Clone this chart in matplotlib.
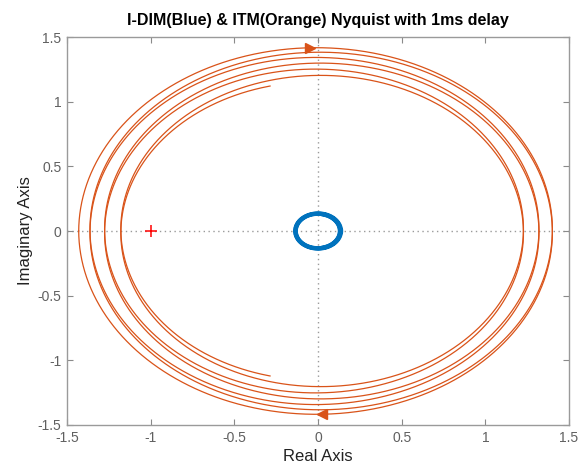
import numpy as np
import matplotlib
matplotlib.use("Agg")
import matplotlib.pyplot as plt

# ---- data ----
delay_s = 1e-3                      # 1 ms loop delay
w_range = [0.0, 20170.0]            # rad/s covered by the Nyquist sweep
itm_gain = -1.43                    # ITM low-frequency gain (starts on negative real axis)
itm_rolloff = 0.191                 # fractional gain loss at the end of the sweep
itm_rolloff_exp = 1.2               # shape of the gain roll-off
idim_gain = 0.140                   # I-DIM low-frequency gain
idim_rolloff = 0.085
idim_rolloff_exp = 1.0
critical_point = [-1.0, 0.0]
ticks = [-1.5, -1.0, -0.5, 0.0, 0.5, 1.0, 1.5]
tick_labels = ["-1.5", "-1", "-0.5", "0", "0.5", "1", "1.5"]
title = "I-DIM(Blue) & ITM(Orange) Nyquist with 1ms delay"
xlabel = "Real Axis"
ylabel = "Imaginary Axis"

ORANGE = "#D95319"
BLUE = "#0072BD"


def freq_response(gain, rolloff, p, n=5000):
    w = np.linspace(w_range[0], w_range[1], n)
    m = gain * (1.0 - rolloff * (w / w_range[1]) ** p)
    return m * np.exp(-1j * w * delay_s)


plt.rcParams["font.family"] = ["Liberation Sans", "DejaVu Sans"]
fig = plt.figure(figsize=(5.81, 4.76), dpi=100)
ax = fig.add_axes([67 / 581, 1 - 425 / 476, (569 - 67) / 581, (425 - 37) / 476])

ax.axhline(0, color="#9a9a9a", ls=(0, (1, 2.5)), lw=1.0, zorder=1)
ax.axvline(0, color="#9a9a9a", ls=(0, (1, 2.5)), lw=1.0, zorder=1)

g_itm = freq_response(itm_gain, itm_rolloff, itm_rolloff_exp)
g_idim = freq_response(idim_gain, idim_rolloff, idim_rolloff_exp)

for g, c, lw in ((g_itm, ORANGE, 0.9), (g_idim, BLUE, 2.4)):
    ax.plot(g.real, g.imag, color=c, lw=lw, zorder=3)
    ax.plot(g.real, -g.imag, color=c, lw=lw, zorder=3)

# direction arrows on the outer ITM loop (first crossing of the imaginary axis)
first_turn = np.arange(len(g_itm)) < len(g_itm) // 10
i_top = np.argmin(np.abs(g_itm.real + 0.045) + 10 * (g_itm.imag < 0) + 10 * (~first_turn))
i_bot = np.argmin(np.abs(g_itm.real - 0.025) + 10 * (g_itm.imag < 0) + 10 * (~first_turn))
ax.plot(g_itm.real[i_top], g_itm.imag[i_top], marker=">", ms=7, color=ORANGE, mec=ORANGE, zorder=4)
ax.plot(g_itm.real[i_bot], -g_itm.imag[i_bot], marker="<", ms=7, color=ORANGE, mec=ORANGE, zorder=4)

ax.plot(critical_point[0], critical_point[1], marker="+", ms=8, mew=1.1, color="red", zorder=5)

ax.set_xlim(-1.5, 1.5)
ax.set_ylim(-1.5, 1.5)
ax.set_xticks(ticks)
ax.set_xticklabels(tick_labels)
ax.set_yticks(ticks)
ax.set_yticklabels(tick_labels)
ax.tick_params(direction="in", length=4, width=0.8, color="#8a8a8a", labelcolor="#606060",
               labelsize=10, top=True, right=True, pad=4)
for s in ax.spines.values():
    s.set_color("#9a9a9a")
    s.set_linewidth(1.0)

ax.set_title(title, fontsize=11.5, fontweight="bold", pad=9)
ax.set_xlabel(xlabel, fontsize=12, labelpad=3, color="#222222")
ax.set_ylabel(ylabel, fontsize=12, labelpad=3, color="#222222")

fig.savefig("out.png", dpi=100)
